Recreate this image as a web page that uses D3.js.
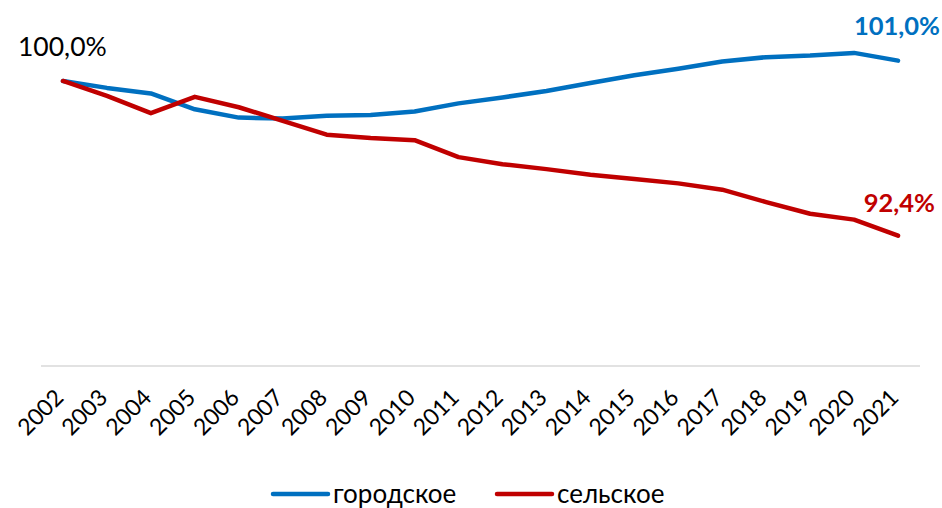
<!DOCTYPE html>
<html><head><meta charset="utf-8">
<script src="https://cdn.jsdelivr.net/npm/d3@7"></script>
<style>body{margin:0;background:#fff}svg{display:block;font-family:Lato,"Noto Sans",sans-serif}</style>
</head><body><svg id="c" width="942" height="508"></svg>
<script>
const years = ["2002","2003","2004","2005","2006","2007","2008","2009","2010","2011","2012","2013","2014","2015","2016","2017","2018","2019","2020","2021"];
const urban = [100,99.66,99.39,98.61,98.20,98.16,98.29,98.33,98.50,98.90,99.19,99.51,99.90,100.28,100.60,100.96,101.17,101.25,101.38,101.0];
const rural = [100,99.27,98.42,99.22,98.71,98.04,97.36,97.20,97.09,96.26,95.91,95.67,95.39,95.18,94.97,94.66,94.05,93.48,93.19,92.4];
const seriesNames = ["городское","сельское"];
const colors = ["#0070C0","#C00000"];
const fmt = v => v.toFixed(1).replace(".", ",") + "%";

const svg = d3.select("#c");
const x = d3.scaleBand().domain(years).range([41,920]);
const y = d3.scaleLinear().domain([86,103]).range([366,19.9]);

svg.append("line").attr("x1",41).attr("x2",920).attr("y1",y(86)).attr("y2",y(86))
  .attr("stroke","#d9d9d9").attr("stroke-width",1.5);

const xAxis = svg.append("g").attr("transform",`translate(0,${y(86)})`)
  .call(d3.axisBottom(x).tickSize(0).tickPadding(0));
xAxis.select(".domain").remove();
xAxis.selectAll("text")
  .attr("font-size",23).attr("fill","#000").attr("font-family","Lato, sans-serif")
  .attr("text-anchor","end").attr("dy",0)
  .attr("transform","translate(2,33) rotate(-45)");

const line = d3.line().x((d,i)=>x(years[i])+x.bandwidth()/2).y(d=>y(d));
[urban, rural].forEach((s,k)=>{
  svg.append("path").datum(s).attr("d",line).attr("fill","none")
    .attr("stroke",colors[k]).attr("stroke-width",4.5)
    .attr("stroke-linejoin","round").attr("stroke-linecap","round");
});

svg.append("text").attr("x",18).attr("y",56).attr("font-size",26.5).attr("fill","#000").text(fmt(urban[0]));
svg.append("text").attr("x",940).attr("y",35).attr("text-anchor","end").attr("font-size",25.5)
  .attr("font-weight","bold").attr("fill",colors[0]).text(fmt(urban[urban.length-1]));
svg.append("text").attr("x",935).attr("y",212).attr("text-anchor","end").attr("font-size",25.5)
  .attr("font-weight","bold").attr("fill",colors[1]).text(fmt(rural[rural.length-1]));

const lg = [[273,333],[497,557]];
seriesNames.forEach((n,k)=>{
  svg.append("line").attr("x1",lg[k][0]).attr("x2",lg[k][0]+55).attr("y1",494).attr("y2",494)
    .attr("stroke",colors[k]).attr("stroke-width",4.5).attr("stroke-linecap","round");
  svg.append("text").attr("x",lg[k][1]).attr("y",503).attr("font-size",26).attr("fill","#000").text(n);
});
</script></body></html>
